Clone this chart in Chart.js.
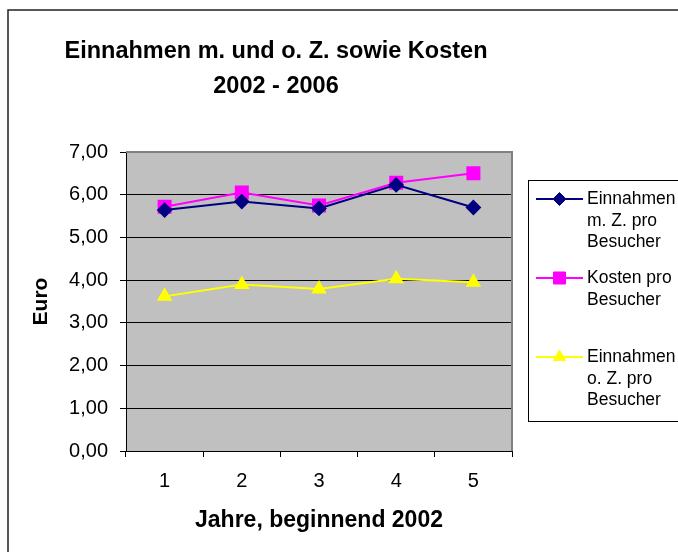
<!DOCTYPE html>
<html>
<head>
<meta charset="utf-8">
<script src="https://cdn.jsdelivr.net/npm/chart.js@4/dist/chart.umd.min.js"></script>
<style>
    html, body { margin: 0; padding: 0; background: #fff; }
    #einnahmenChart { display: block; }
</style>
</head>
<body>
<canvas id="einnahmenChart" width="678" height="552"></canvas>
<script>
const jahre = ['1', '2', '3', '4', '5'];
const einnahmenMitZ = [5.64, 5.84, 5.68, 6.23, 5.70];
const kostenProBesucher = [5.72, 6.05, 5.75, 6.28, 6.50];
const einnahmenOhneZ = [3.62, 3.90, 3.79, 4.03, 3.95];

const titelZeilen = ['Einnahmen m. und o. Z. sowie Kosten', '2002 - 2006'];
const legendenTexte = [
    ['Einnahmen', 'm. Z. pro', 'Besucher'],
    ['Kosten pro', 'Besucher'],
    ['Einnahmen', 'o. Z. pro', 'Besucher']
];

const FONT = "'Liberation Sans', Arial, sans-serif";

// Rahmen, Diagrammtitel und Legende wie in Excel
const excelLook = {
    id: 'excelLook',
    beforeDraw(chart) {
        const c = chart.ctx;
        const a = chart.chartArea;
        c.save();
        c.fillStyle = '#fff';
        c.fillRect(0, 0, chart.width, chart.height);
        c.strokeStyle = '#222';
        c.lineWidth = 1.5;
        c.strokeRect(8, 10, chart.width + 20, chart.height + 20);
        c.fillStyle = '#c0c0c0';
        c.fillRect(a.left, a.top, a.right - a.left, a.bottom - a.top);
        c.restore();
    },
    beforeDatasetsDraw(chart) {
        const c = chart.ctx;
        const a = chart.chartArea;
        c.save();
        c.strokeStyle = '#808080';
        c.lineWidth = 2;
        c.beginPath();
        c.moveTo(a.left, a.top);
        c.lineTo(a.right, a.top);
        c.lineTo(a.right, a.bottom);
        c.stroke();
        c.restore();
    },
    afterDraw(chart) {
        const c = chart.ctx;
        c.save();
        // Titel
        c.fillStyle = '#000';
        c.font = 'bold 23.5px ' + FONT;
        c.textAlign = 'center';
        c.textBaseline = 'middle';
        c.fillText(titelZeilen[0], 276, 52);
        c.fillText(titelZeilen[1], 276, 87);

        // Legende
        c.strokeStyle = '#000';
        c.lineWidth = 1;
        c.strokeRect(528.5, 180.5, 200, 241);
        c.font = '17.5px ' + FONT;
        c.textAlign = 'left';
        chart.data.datasets.forEach(function (ds, i) {
            const y = 199 + i * 79;
            c.strokeStyle = ds.borderColor;
            c.lineWidth = 2;
            c.beginPath();
            c.moveTo(536, y);
            c.lineTo(583, y);
            c.stroke();
            c.fillStyle = ds.pointBackgroundColor;
            c.strokeStyle = ds.pointBorderColor;
            c.lineWidth = 1;
            Chart.helpers.drawPoint(c, {
                pointStyle: ds.pointStyle,
                radius: ds.pointRadius,
                borderWidth: 1,
                rotation: 0
            }, 559.5, y);
            c.fillStyle = '#000';
            legendenTexte[i].forEach(function (t, j) {
                c.fillText(t, 587, y + j * 21.7);
            });
        });
        c.restore();
    }
};

const chart = new Chart(document.getElementById('einnahmenChart').getContext('2d'), {
    type: 'line',
    data: {
        labels: jahre,
        datasets: [{
            label: 'Einnahmen m. Z. pro Besucher',
            data: einnahmenMitZ,
            borderColor: '#000080',
            pointBackgroundColor: '#000080',
            pointBorderColor: '#000080',
            pointStyle: 'rectRot',
            pointRadius: 6.5,
            borderWidth: 2,
            tension: 0
        }, {
            label: 'Kosten pro Besucher',
            data: kostenProBesucher,
            borderColor: '#ff00ff',
            pointBackgroundColor: '#ff00ff',
            pointBorderColor: '#ff00ff',
            pointStyle: 'rect',
            pointRadius: 8.5,
            borderWidth: 2,
            tension: 0
        }, {
            label: 'Einnahmen o. Z. pro Besucher',
            data: einnahmenOhneZ,
            borderColor: '#ffff00',
            pointBackgroundColor: '#ffff00',
            pointBorderColor: '#ffff00',
            pointStyle: 'triangle',
            pointRadius: 7,
            borderWidth: 2,
            tension: 0
        }]
    },
    options: {
        responsive: false,
        animation: false,
        layout: {
            padding: { left: 25, right: 166, top: 152, bottom: 14 }
        },
        plugins: {
            legend: { display: false },
            title: { display: false },
            tooltip: { enabled: false }
        },
        scales: {
            x: {
                offset: true,
                afterFit: function (scale) { scale.height = 87; },
                grid: {
                    offset: true,
                    drawOnChartArea: false,
                    drawTicks: true,
                    tickLength: 6,
                    tickColor: '#000'
                },
                border: { color: '#000', width: 1 },
                ticks: {
                    color: '#000',
                    font: { family: FONT, size: 20 },
                    padding: 12,
                    maxRotation: 0
                },
                title: {
                    display: true,
                    text: 'Jahre, beginnend 2002',
                    color: '#000',
                    font: { family: FONT, size: 23, weight: 'bold' }
                }
            },
            y: {
                min: 0,
                max: 7,
                afterFit: function (scale) { scale.width = 101; },
                grid: {
                    color: function (ctx) { return ctx.tick && ctx.tick.value === 7 ? 'rgba(0,0,0,0)' : '#000'; },
                    tickColor: '#000',
                    tickLength: 6
                },
                border: { color: '#000', width: 1 },
                ticks: {
                    stepSize: 1,
                    color: '#000',
                    font: { family: FONT, size: 20 },
                    padding: 12,
                    callback: function (v) { return v.toFixed(2).replace('.', ','); }
                },
                title: {
                    display: true,
                    text: 'Euro',
                    color: '#000',
                    font: { family: FONT, size: 21, weight: 'bold' }
                }
            }
        }
    },
    plugins: [excelLook]
});
</script>
</body>
</html>
